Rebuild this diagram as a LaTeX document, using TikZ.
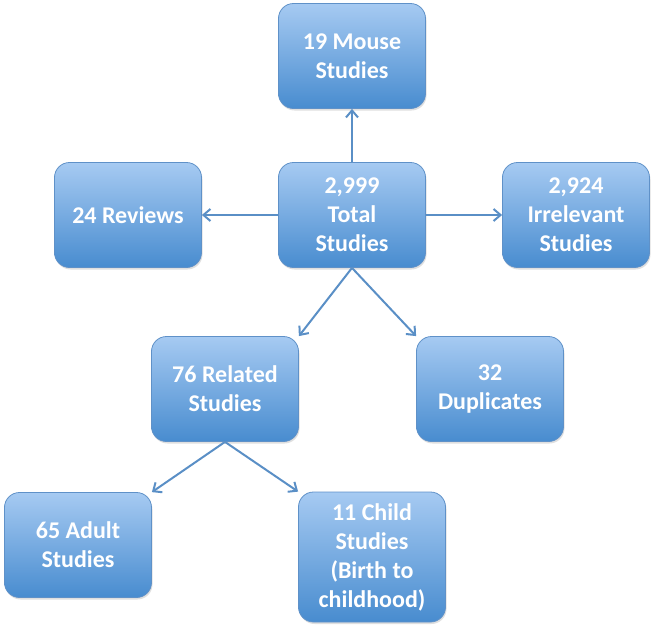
\documentclass[tikz,border=0pt]{standalone}
\usepackage{fontspec}
\setmainfont{Carlito}
\usetikzlibrary{arrows.meta,shadows}
\definecolor{boxtop}{RGB}{166,202,242}
\definecolor{boxbot}{RGB}{72,140,207}
\definecolor{boxline}{RGB}{95,145,200}
\definecolor{arrowcol}{RGB}{90,143,198}
\tikzset{
  studybox/.style={draw=boxline, line width=0.8pt, rounded corners=15pt,
    top color=boxtop, bottom color=boxbot, text=white, align=center,
    minimum width=147pt, minimum height=105pt, inner sep=2pt,
    font=\fontsize{24}{29}\selectfont\bfseries,
    drop shadow={opacity=0.25, shadow xshift=1pt, shadow yshift=-2pt}},
  flow/.style={draw=arrowcol, line width=2pt, -{Straight Barb[length=7pt,width=12pt]}}
}
\begin{document}
\begin{tikzpicture}[x=1pt,y=-1pt]
			%%%%% START %%%%%
			\useasboundingbox (0,0) rectangle (657,630);
			
			\node[studybox] (mouse) at (352, 56) {19 Mouse\\Studies};
			\node[studybox] (rev) at (128, 215) {24 Reviews};
			\node[studybox] (tot) at (352, 215) {2,999\\Total\\Studies};
			\node[studybox] (irr) at (576, 215) {2,924\\Irrelevant\\Studies};
			
			\node[studybox] (rel) at (225, 389) {76 Related\\Studies};
			\node[studybox] (dup) at (490, 389) {32\\Duplicates};
			
			\node[studybox] (adult) at (78, 545) {65 Adult\\Studies};
			\node[studybox, minimum height=130pt] (child) at (372, 557) {11 Child\\Studies\\(Birth to\\childhood)};
			
			\draw[flow] (tot.north) -- (mouse.south);
			\draw[flow] (tot.west) -- (rev.east);
			\draw[flow] (tot.east) -- (irr.west);
			\draw[flow] (tot.south) -- (rel.north east);
			\draw[flow] (tot.south) -- (dup.north west);
			\draw[flow] (rel.south) -- (adult.north east);
			\draw[flow] (rel.south) -- (child.north west);
			
			%%%%% END %%%%%
\end{tikzpicture}
\end{document}
